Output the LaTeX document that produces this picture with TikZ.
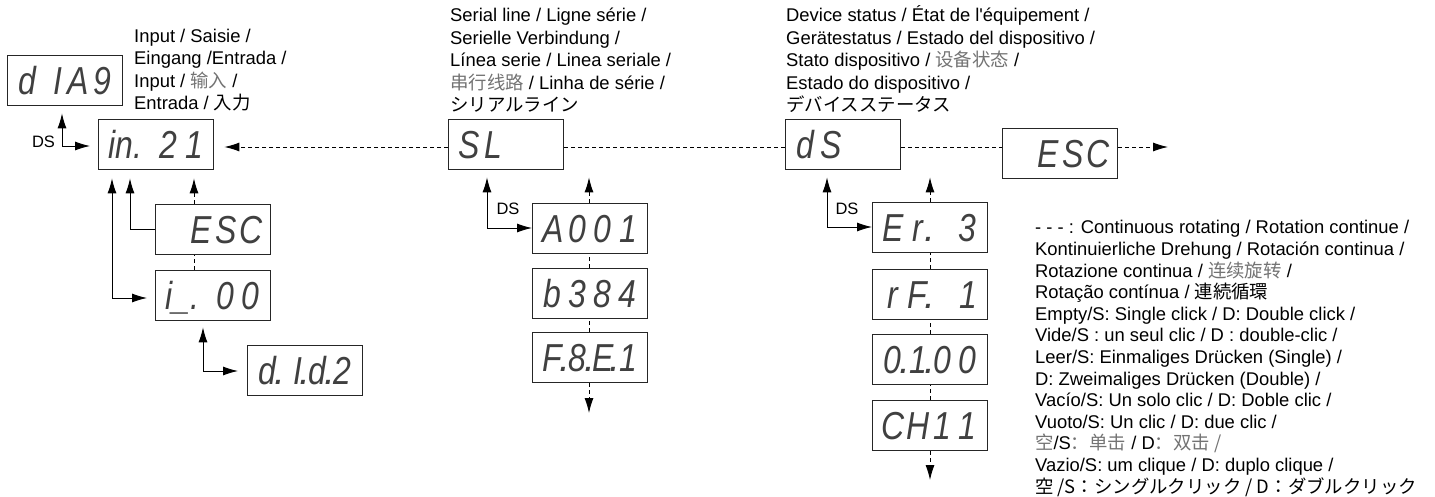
\documentclass[tikz,border=0pt]{standalone}
\usepackage{fontspec}
\usepackage{graphicx}
\setmainfont{Liberation Sans}
\newfontfamily\cjksc{Noto Sans CJK SC}
\newfontfamily\cjkjp{Noto Sans CJK JP}
\usetikzlibrary{arrows.meta}
\newcommand\zh[1]{{\cjksc\color{black!55}#1}}
\newcommand\ja[1]{{\cjkjp #1}}
\newcommand\sgc[1]{\makebox[25pt][c]{\scalebox{0.82}[1]{#1}}}
\newcommand\sgr[1]{\makebox[25pt][r]{\scalebox{0.82}[1]{#1}\hspace{3pt}}}
\newcommand\sgw[1]{\makebox[50pt][l]{\hspace{2pt}\scalebox{0.82}[1]{#1}}}
\newcommand\sgd{\makebox[0pt][c]{\hspace{-1pt}.}}
\tikzset{
 disp/.style={draw=black!85, line width=1.4pt, minimum width=115pt, minimum height=50pt, inner sep=0pt, anchor=north west, text height=28pt, text depth=0pt, text=black!75, font=\itshape\fontsize{39}{39}\selectfont},
 conn/.style={line width=0.9pt, black},
 dconn/.style={conn, dash pattern=on 4pt off 3pt},
 tip/.style={-{Latex[length=15pt,width=9pt]}},
 tips/.style={{Latex[length=15pt,width=9pt]}-{Latex[length=15pt,width=9pt]}},
 lbl/.style={anchor=base west, align=left, inner sep=0pt, font=\fontsize{18.4}{22.6}\selectfont},
 leg/.style={anchor=base west, align=left, inner sep=0pt, font=\fontsize{18.4}{21.6}\selectfont},
 dsl/.style={inner sep=0pt, font=\fontsize{16.5}{16.5}\selectfont},
}
\begin{document}
\begin{tikzpicture}[x=1pt,y=-1pt]
\useasboundingbox (0,0) rectangle (1435,497);
% displays
\node[disp] (diag) at (7,55) {\sgc{d}\sgr{I}\sgc{A}\sgc{9}};
\node[disp] (in21) at (98,119) {\sgw{in.}\sgc{2}\sgr{1}};
\node[disp] (esc1) at (155,204) {\sgc{}\sgc{E}\sgc{S}\sgc{C}};
\node[disp] (i00) at (155,270) {\sgw{i\_.}\sgc{0}\sgc{0}};
\node[disp] (did2) at (247,345) {\sgc{d}\sgd\sgr{I}\sgd\sgc{d}\sgd\sgc{2}};
\node[disp] (sl) at (448,119) {\sgc{S}\sgc{L}\sgc{}\sgc{}};
\node[disp] (a001) at (532,203) {\sgc{A}\sgc{0}\sgc{0}\sgr{1}};
\node[disp] (b384) at (532,268) {\sgc{b}\sgc{3}\sgc{8}\sgc{4}};
\node[disp] (f8e1) at (532,332) {\sgc{F}\sgd\sgc{8}\sgd\sgc{E}\sgd\sgr{1}};
\node[disp] (ds) at (785,119) {\sgc{d}\sgc{S}\sgc{}\sgc{}};
\node[disp] (esc2) at (1002,128) {\sgc{}\sgc{E}\sgc{S}\sgc{C}};
\node[disp] (er3) at (872,202) {\sgc{E}\sgc{r}\sgd\sgc{}\sgc{3}};
\node[disp] (rf1) at (872,269) {\sgc{r}\sgc{F}\sgd\sgc{}\sgr{1}};
\node[disp] (o100) at (872,334) {\sgc{0}\sgd\sgr{1}\sgd\sgc{0}\sgc{0}};
\node[disp] (ch11) at (872,400) {\sgc{C}\sgc{H}\sgc{1}\sgc{1}};
% labels (anchored at the baseline of their last line)
\node[lbl] (linput) at (134,110) {Input / Saisie /\\Eingang /Entrada /\\Input / \zh{输入} /\\Entrada / \ja{入力}};
\node[lbl] (lsl) at (450,112) {Serial line / Ligne série /\\Serielle Verbindung /\\Línea serie / Linea seriale /\\\zh{串行线路} / Linha de série /\\\ja{シリアルライン}};
\node[lbl] (lds) at (786,112) {Device status / État de l\textquotesingle équipement /\\Gerätestatus / Estado del dispositivo /\\Stato dispositivo / \zh{设备状态} /\\Estado do dispositivo /\\\ja{デバイスステータス}};
\node[leg] (legend) at (1035,493) {- - - : Continuous rotating / Rotation continue /\\Kontinuierliche Drehung / Rotación continua /\\Rotazione continua / \zh{连续旋转} /\\Rotação contínua / \ja{連続循環}\\Empty/S: Single click / D: Double click /\\Vide/S : un seul clic / D : double-clic /\\Leer/S: Einmaliges Drücken (Single) /\\D: Zweimaliges Drücken (Double) /\\Vacío/S: Un solo clic / D: Doble clic /\\Vuoto/S: Un clic / D: due clic /\\\zh{空}/S\zh{：单击} / D\zh{：双击 /}\\Vazio/S: um clique / D: duplo clique /\\\ja{空 /S：シングルクリック / D：ダブルクリック}};
\node[dsl] (ds1) at (43.5,142) {DS};
\node[dsl] (ds2) at (508,209) {DS};
\node[dsl] (ds3) at (847,209) {DS};
% top row
\coordinate (row) at (0,147);
\coordinate (rowend) at (1168,147);
\draw[dconn,tip,shorten >=10pt] (sl.west |- row) -- (in21.east |- row);
\draw[dconn] (sl.east |- row) -- (ds.west |- row);
\draw[dconn] (ds.east |- row) -- (esc2.west |- row);
\draw[dconn,tip] (esc2.east |- row) -- (rowend);
% left group
\coordinate (k1) at (62,146);
\draw[conn,tips,shorten <=7pt,shorten >=8pt] (k1 |- diag.south) -- (k1) -- (in21.west |- k1);
\coordinate (k2) at (130,229);
\draw[conn,tip,shorten >=8pt] (esc1.west |- k2) -- (k2) -- (k2 |- in21.south);
\coordinate (k3) at (112,298);
\draw[conn,tips,shorten <=8pt,shorten >=8pt] (k3 |- in21.south) -- (k3) -- (i00.west |- k3);
\coordinate (k4) at (194,0);
\draw[dconn,tip,shorten >=8pt] (k4 |- esc1.north) -- (k4 |- in21.south);
\draw[dconn] (k4 |- i00.north) -- (k4 |- esc1.south);
\coordinate (k5) at (203,371);
\draw[conn,tips,shorten <=6pt,shorten >=9pt] (k5 |- i00.south) -- (k5) -- (did2.west |- k5);
% middle group
\coordinate (m1) at (487,228);
\draw[conn,tips,shorten <=7pt] (m1 |- sl.south) -- (m1) -- (a001.west |- m1);
\coordinate (m2) at (589,413);
\draw[dconn,tip,shorten >=7pt] (m2 |- a001.north) -- (m2 |- sl.south);
\draw[dconn] (m2 |- b384.north) -- (m2 |- a001.south);
\draw[dconn] (m2 |- f8e1.north) -- (m2 |- b384.south);
\draw[dconn,tip] (m2 |- f8e1.south) -- (m2);
% right group
\coordinate (n1) at (827,227);
\draw[conn,tips,shorten <=7pt] (n1 |- ds.south) -- (n1) -- (er3.west |- n1);
\coordinate (n2) at (930,480);
\draw[dconn,tip,shorten >=7pt] (n2 |- er3.north) -- (n2 |- ds.south);
\draw[dconn] (n2 |- rf1.north) -- (n2 |- er3.south);
\draw[dconn] (n2 |- o100.north) -- (n2 |- rf1.south);
\draw[dconn] (n2 |- ch11.north) -- (n2 |- o100.south);
\draw[dconn,tip] (n2 |- ch11.south) -- (n2);
\end{tikzpicture}
\end{document}
